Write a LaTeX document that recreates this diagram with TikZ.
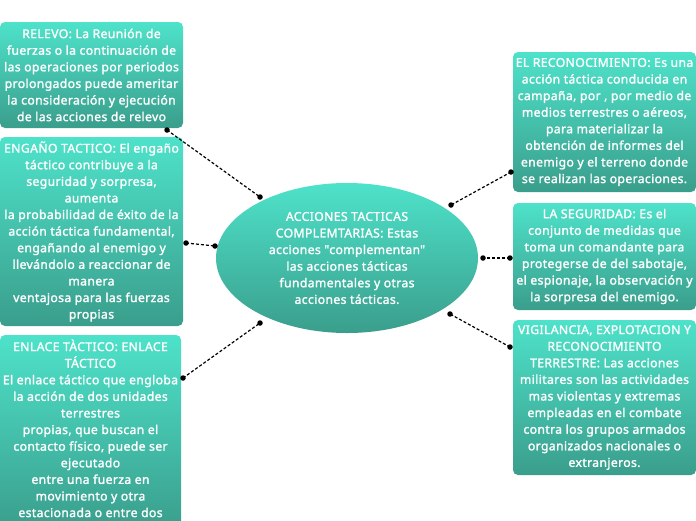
\documentclass[tikz,border=0pt]{standalone}
\usepackage{fontspec}
\setmainfont{Noto Sans}[BoldFont={Noto Sans}, BoldFeatures={FakeBold=1.6, LetterSpace=3}]
\usetikzlibrary{shapes.geometric}
\definecolor{tealtop}{RGB}{78,226,202}
\definecolor{tealbot}{RGB}{58,158,140}
\begin{document}
\begin{tikzpicture}[x=1pt,y=-1pt,
  card/.style={rectangle, rounded corners=5pt, top color=tealtop, bottom color=tealbot, draw=none, inner sep=0pt},
  oval/.style={ellipse, top color=tealtop, bottom color=tealbot, draw=none, inner sep=0pt},
  txt/.style={text=white, align=center, font=\bfseries\fontsize{12.2}{16.6}\selectfont},
  link/.style={line width=1.2pt, dash pattern=on 3pt off 2pt},
  dot/.style={circle, fill=black, inner sep=0pt, minimum size=5.5pt}]
\useasboundingbox (0,0) rectangle (696,520);
\begin{scope}
\clip (0,0) rectangle (696,520);
% left boxes
\node[card, txt, minimum width=183pt, minimum height=106pt] (relevo) at (91.5,75) {RELEVO: La Reunión de\\fuerzas o la continuación de\\las operaciones por periodos\\prolongados puede ameritar\\la consideración y ejecución\\de las acciones de relevo};
\node[card, txt, minimum width=183pt, minimum height=189pt] (engano) at (91.5,231.5) {ENGAÑO TACTICO: El engaño\\táctico contribuye a la\\seguridad y sorpresa,\\aumenta\\la probabilidad de éxito de la\\acción táctica fundamental,\\engañando al enemigo y\\llevándolo a reaccionar de\\manera\\ventajosa para las fuerzas\\propias};
\node[card, minimum width=181pt, minimum height=195pt] (enlace) at (90.5,432.5) {};
\node[txt, anchor=north] (enlacetxt) at (90.5,336) {ENLACE TÀCTICO: ENLACE\\TÁCTICO\\El enlace táctico que engloba\\la acción de dos unidades\\terrestres\\propias, que buscan el\\contacto físico, puede ser\\ejecutado\\entre una fuerza en\\movimiento y otra\\estacionada o entre dos};
% right boxes
\node[card, txt, minimum width=183pt, minimum height=140pt] (recon) at (604.5,122) {EL RECONOCIMIENTO: Es una\\acción táctica conducida en\\campaña, por , por medio de\\medios terrestres o aéreos,\\para materializar la\\obtención de informes del\\enemigo y el terreno donde\\se realizan las operaciones.};
\node[card, txt, minimum width=183pt, minimum height=107pt] (seg) at (604.5,256.5) {LA SEGURIDAD: Es el\\conjunto de medidas que\\toma un comandante para\\protegerse de del sabotaje,\\el espionaje, la observación y\\la sorpresa del enemigo.};
\node[card, txt, minimum width=183pt, minimum height=155pt] (vig) at (604.5,397.5) {VIGILANCIA, EXPLOTACION Y\\RECONOCIMIENTO\\TERRESTRE: Las acciones\\militares son las actividades\\mas violentas y extremas\\empleadas en el combate\\contra los grupos armados\\organizados nacionales o\\extranjeros.};
% center
\node[oval, txt, minimum width=262pt, minimum height=150pt] (main) at (347,258) {ACCIONES TACTICAS\\COMPLEMTARIAS: Estas\\acciones \textquotedbl complementan\textquotedbl\\las acciones tácticas\\fundamentales y otras\\acciones tácticas.};
\end{scope}
% connector end points
\coordinate (a1) at (167,130); \coordinate (b1) at (260,197);
\coordinate (a2) at (186,243); \coordinate (b2) at (215,246);
\coordinate (a3) at (183,378); \coordinate (b3) at (260,323);
\coordinate (a4) at (511,172); \coordinate (b4) at (451,205);
\coordinate (a5) at (510,258); \coordinate (b5) at (483,258);
\coordinate (a6) at (510,347); \coordinate (b6) at (450,314);
\foreach \i in {1,...,6}{
  \draw[link] (a\i) -- (b\i);
  \node[dot] at (a\i) {};
  \node[dot] at (b\i) {};
}
\end{tikzpicture}
\end{document}
